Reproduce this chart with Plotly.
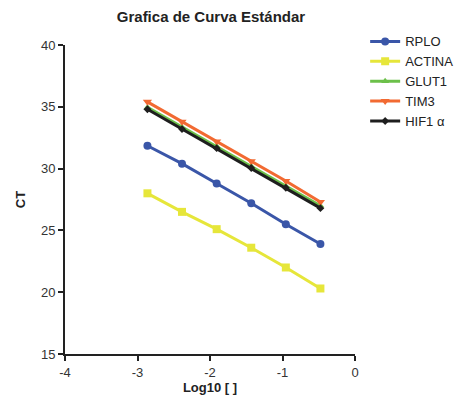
import plotly.graph_objects as go

x_vals = [-2.863, -2.386, -1.908, -1.431, -0.954, -0.477]
rplo = [31.85, 30.4, 28.8, 27.2, 25.5, 23.9]
actina = [28.0, 26.5, 25.1, 23.6, 22.0, 20.3]
glut1 = [34.95, 33.35, 31.8, 30.2, 28.6, 27.0]
tim3 = [35.4, 33.8, 32.2, 30.6, 29.0, 27.3]
hif1 = [34.8, 33.2, 31.65, 30.05, 28.45, 26.8]
x_ticks = [-4, -3, -2, -1, 0]
x_ticktext = ["-4", "-3", "-2", "-1", "0"]
y_ticks = [15, 20, 25, 30, 35, 40]

series = [
    ("RPLO", rplo, "#3A56A8", "circle", 8),
    ("ACTINA", actina, "#E6E63A", "square", 8),
    ("GLUT1", glut1, "#6CC04A", "triangle-up", 7),
    ("TIM3", tim3, "#F26A32", "triangle-down", 8),
    ("HIF1 α", hif1, "#1E1E1E", "diamond", 6),
]

fig = go.Figure()
for name, ys, color, sym, sz in series:
    fig.add_trace(go.Scatter(
        x=x_vals, y=ys, name=name, mode="lines+markers",
        line=dict(color=color, width=3),
        marker=dict(symbol=sym, size=sz, color=color),
    ))

axis_common = dict(
    showgrid=False, zeroline=False, showline=True, linecolor="#222", linewidth=2,
    ticks="outside", ticklen=5, tickwidth=2, tickcolor="#222", automargin=False,
    tickfont=dict(family="Liberation Sans, Arial", size=13, color="#333"),
)

fig.update_layout(
    width=457, height=399,
    margin=dict(l=65, r=102, t=45, b=45, autoexpand=False),
    paper_bgcolor="white", plot_bgcolor="white",
    title=dict(text="<b>Grafica de Curva Estándar</b>", x=211 / 457, xanchor="center",
               y=1 - 17 / 399, yanchor="middle",
               font=dict(family="Liberation Sans, Arial", size=15, color="#222")),
    xaxis=dict(range=[-4, 0], tickvals=x_ticks, ticktext=x_ticktext,
               title=dict(text="<b>Log10 [ ]</b>", standoff=4,
                          font=dict(family="Liberation Sans, Arial", size=13, color="#222")),
               **axis_common),
    yaxis=dict(range=[15, 40], tickvals=y_ticks,
               title=dict(text="<b>CT</b>", standoff=12,
                          font=dict(family="Liberation Sans, Arial", size=13, color="#222")),
               **axis_common),
    legend=dict(x=1.035, y=1.06, xanchor="left", yanchor="top",
                font=dict(family="Liberation Sans, Arial", size=13, color="#222"),
                tracegroupgap=0, itemwidth=30, bgcolor="rgba(0,0,0,0)"),
    showlegend=True,
)

fig.write_html("out.html")
